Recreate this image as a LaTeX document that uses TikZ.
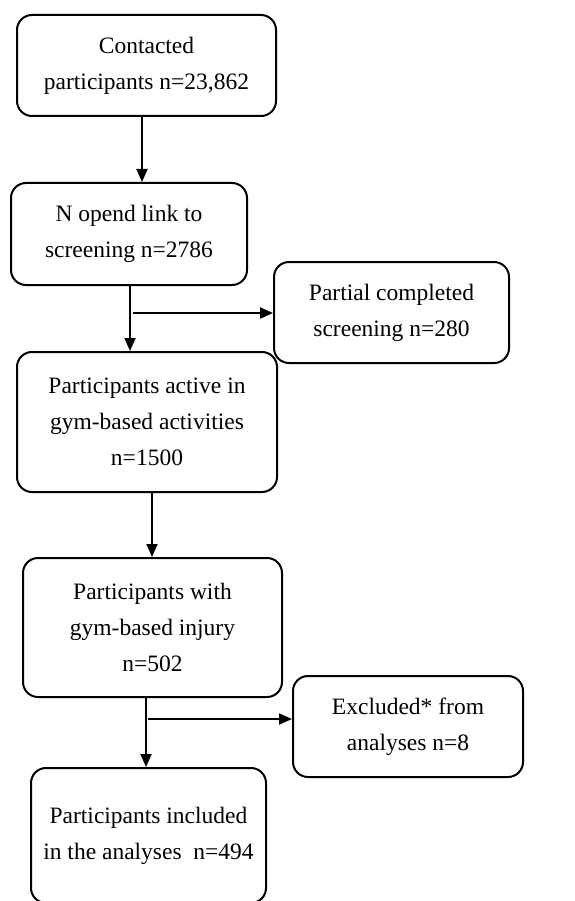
\documentclass[tikz,border=0pt]{standalone}
\usepackage{fontspec}
\setmainfont{Liberation Serif}
\usetikzlibrary{arrows.meta,calc}
\begin{document}
\begin{tikzpicture}[x=1pt,y=-1pt,
  box/.style={draw=black,line width=2pt,rounded corners=15pt,align=center,
    inner sep=0pt,font=\fontsize{23.5}{36}\selectfont},
  arr/.style={line width=1.8pt,-{Triangle[length=13pt,width=11pt]}}]
\useasboundingbox (0,0) rectangle (574,901);
\clip (0,0) rectangle (574,901);
\node[box,minimum width=259pt,minimum height=101pt] (b1) at (146.5,65.5) {Contacted\\participants n=23,862};
\node[box,minimum width=236pt,minimum height=102pt] (b2) at (129,234) {N opend link to\\screening n=2786};
\node[box,minimum width=235pt,minimum height=101pt] (p) at (391.5,312.5) {Partial completed\\screening n=280};
\node[box,minimum width=260pt,minimum height=140pt] (b3) at (147,422) {Participants active in\\gym-based activities\\n=1500};
\node[box,minimum width=259pt,minimum height=139pt] (b4) at (152.5,627.5) {Participants with\\gym-based injury\\n=502};
\node[box,minimum width=230pt,minimum height=101pt] (e) at (408,726.5) {Excluded* from\\analyses n=8};
\node[box,minimum width=235pt,minimum height=135pt] (b5) at (148.5,835.5) {Participants included\\in the analyses~~n=494};
% connectors
\draw[arr] ([xshift=-4.5pt]b1.south) -- ([xshift=-4.5pt]b1.south |- b2.north);
\draw[arr] ([xshift=1pt]b2.south) -- ([xshift=1pt]b2.south |- b3.north);
\coordinate (j1) at ($([xshift=4pt]b2.south)+(0,27)$);
\draw[arr] (j1) -- (j1 -| p.west);
\draw[arr] ([xshift=5pt]b3.south) -- ([xshift=5pt]b3.south |- b4.north);
\draw[arr] ([xshift=-6.5pt]b4.south) -- ([xshift=-6.5pt]b4.south |- b5.north);
\coordinate (j2) at ($([xshift=-4.5pt]b4.south)+(0,21)$);
\draw[arr] (j2) -- (j2 -| e.west);
\end{tikzpicture}
\end{document}
